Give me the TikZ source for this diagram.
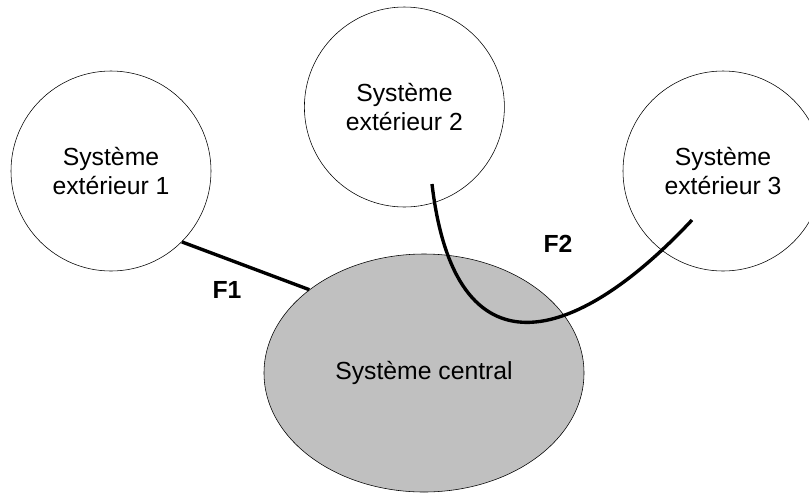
\documentclass[tikz,border=0pt]{standalone}
\usepackage{fontspec}
\setmainfont{Liberation Sans}
\usetikzlibrary{shapes.geometric}
\definecolor{centralgray}{RGB}{192,192,192}
\begin{document}
\begin{tikzpicture}[
    every node/.style={font=\fontsize{17.6}{20.6}\selectfont},
    extsys/.style={draw,thin,circle,minimum size=5cm,inner sep=0pt,align=center},
    flux/.style={line width=2.4pt},
    fluxlabel/.style={font=\fontsize{17.6}{20.6}\selectfont\bfseries}]
    \useasboundingbox (0,0) rectangle (20.225,-12.4);
    \node[draw,thin,ellipse,fill=centralgray,minimum width=8cm,minimum height=5.95cm,inner sep=0pt] (central) at (10.6,-9.325) {Système central};
    \foreach \n/\x/\y in {1/2.775/-4.275,2/10.11/-2.675,3/18.075/-4.275} {
      \node[extsys] (ext\n) at (\x,\y) {Système\\extérieur \n};
    }
    \coordinate (f2start) at (10.8,-4.6);
    \coordinate (f2end) at (17.3,-5.5);
    \draw[flux] (ext1.-45) -- (central.144);
    \draw[flux] (f2start) .. controls (11.375,-9.5) and (14.375,-8.625) .. (f2end);
    \node[fluxlabel] (lblF1) at (5.675,-7.25) {F1};
    \node[fluxlabel] (lblF2) at (13.95,-6.1) {F2};
  \end{tikzpicture}
\end{document}
